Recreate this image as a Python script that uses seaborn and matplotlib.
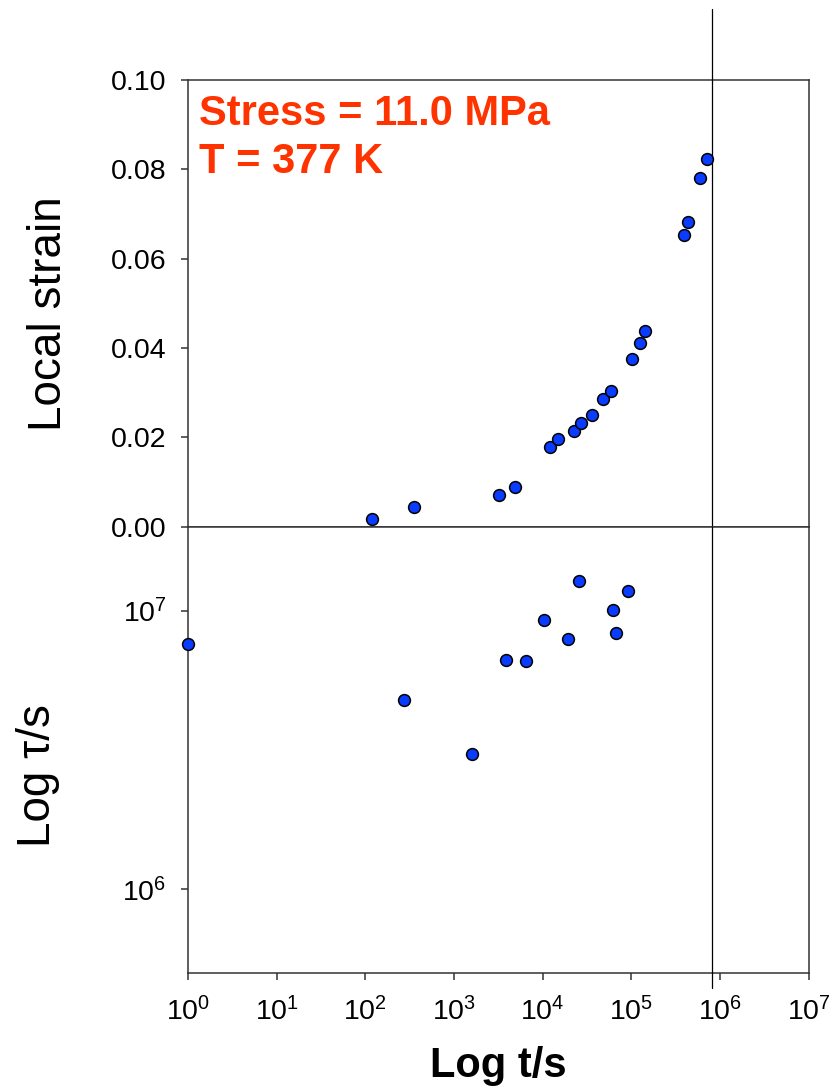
import numpy as np
import pandas as pd
import matplotlib
matplotlib.use("Agg")
import matplotlib.pyplot as plt
import seaborn as sns
from matplotlib.ticker import LogFormatterSciNotation, NullLocator, FixedLocator

# ---- data ----
strain_time = [119, 350, 3190, 4920, 12000, 14700, 22400, 26900, 35800, 47700,
               58200, 100500, 126000, 141000, 388000, 434000, 598000, 711000]
strain_value = [0.0017, 0.0043, 0.0071, 0.0088, 0.0178, 0.0197, 0.0214, 0.0232,
                0.0250, 0.0285, 0.0304, 0.0376, 0.0412, 0.0439, 0.0654, 0.0682,
                0.0780, 0.0824]

tau_time = [1, 275, 1582, 3830, 6430, 10260, 19300, 25700, 61700, 67600, 92400]
tau_value = [7.61e6, 4.76e6, 3.07e6, 6.63e6, 6.58e6, 9.24e6, 7.91e6, 1.28e7,
             1.008e7, 8.31e6, 1.175e7]

marker_time = 8.2e5

strain_ticks = [0.00, 0.02, 0.04, 0.06, 0.08, 0.10]
tau_ticks = [1e6, 1e7]
time_ticks = [1e0, 1e1, 1e2, 1e3, 1e4, 1e5, 1e6, 1e7]

annotation_lines = ["Stress = 11.0 MPa", "T = 377 K"]

# ---- style ----
sns.set_style("ticks")
plt.rcParams["font.family"] = ["Liberation Sans", "DejaVu Sans"]
plt.rcParams["mathtext.fontset"] = "custom"
plt.rcParams["mathtext.rm"] = "Liberation Sans"
plt.rcParams["mathtext.it"] = "Liberation Sans:italic"
plt.rcParams["mathtext.bf"] = "Liberation Sans:bold"
plt.rcParams["text.color"] = "black"
plt.rcParams["axes.labelcolor"] = "black"

W, H = 839, 1090
fig = plt.figure(figsize=(W / 100, H / 100), dpi=100)

left = 188 / W
right = 808.7 / W
top_top = 1 - 80 / H
mid = 1 - 526.7 / H
bot = 1 - 973.3 / H
axw_px = 620.7

ax1 = fig.add_axes([left, mid, right - left, top_top - mid])
ax2 = fig.add_axes([left, bot, right - left, mid - bot], sharex=ax1)

blue = "#0a3cff"
spine_c = "#333333"

df1 = pd.DataFrame({"t": strain_time, "strain": strain_value})
df2 = pd.DataFrame({"t": tau_time, "tau": tau_value})

sns.scatterplot(data=df1, x="t", y="strain", ax=ax1, color=blue, s=72,
                edgecolor="black", linewidth=1.1, zorder=5, clip_on=False, legend=False)
sns.scatterplot(data=df2, x="t", y="tau", ax=ax2, color=blue, s=72,
                edgecolor="black", linewidth=1.1, zorder=5, clip_on=False, legend=False)

ax1.set_xscale("log")
ax1.set_xlim(1, 1e7)
ax1.set_ylim(0, 0.10)
ax2.set_yscale("log")
ax2.set_ylim(5e5, 2e7)

for ax in (ax1, ax2):
    for s in ax.spines.values():
        s.set_color(spine_c)
        s.set_linewidth(1.1)
        s.set_visible(True)

ax1.yaxis.set_major_locator(FixedLocator(strain_ticks))
ax1.set_yticklabels([f"{v:.2f}" for v in strain_ticks])
ax1.xaxis.set_minor_locator(NullLocator())
ax1.tick_params(axis="x", which="both", bottom=False, labelbottom=False)
ax1.tick_params(axis="y", direction="out", length=5, width=1.1, color=spine_c,
                labelcolor="black", labelsize=20.5, pad=10.5)

ax2.yaxis.set_major_locator(FixedLocator(tau_ticks))
ax2.yaxis.set_major_formatter(LogFormatterSciNotation())
ax2.yaxis.set_minor_locator(NullLocator())
ax2.xaxis.set_major_locator(FixedLocator(time_ticks))
ax2.xaxis.set_major_formatter(LogFormatterSciNotation())
ax2.xaxis.set_minor_locator(NullLocator())
ax2.tick_params(axis="both", direction="out", length=5, width=1.1, color=spine_c,
                labelcolor="black", labelsize=20.5, pad=10.5)
ax2.tick_params(axis="x", pad=12)

ax1.set_xlabel("")
ax1.set_ylabel("Local strain", fontsize=33)
ax2.set_ylabel("Log \u03c4/s", fontsize=33)
ax2.set_xlabel("Log t/s", fontsize=30, fontweight="bold", labelpad=14)
ax1.yaxis.set_label_coords((71 - 188) / axw_px, 0.478)
ax2.yaxis.set_label_coords((60 - 188) / axw_px, 0.442)

# vertical marker line spanning beyond both panels
ax1.axvline(marker_time, ymin=0, ymax=1 + 71 / 446.7, color="black",
            linewidth=0.9, clip_on=False, zorder=3)
ax2.axvline(marker_time, ymin=-(988 - 973.3) / 446.6, ymax=1, color="black",
            linewidth=0.9, clip_on=False, zorder=3)

red = "#ff3300"
ax1.text(199 / W, 1 - 125 / H, annotation_lines[0], transform=fig.transFigure,
         color=red, fontsize=30, fontweight="bold", ha="left", va="baseline")
ax1.text(199 / W, 1 - 173 / H, annotation_lines[1], transform=fig.transFigure,
         color=red, fontsize=30, fontweight="bold", ha="left", va="baseline")

fig.savefig("out.png", dpi=100)
